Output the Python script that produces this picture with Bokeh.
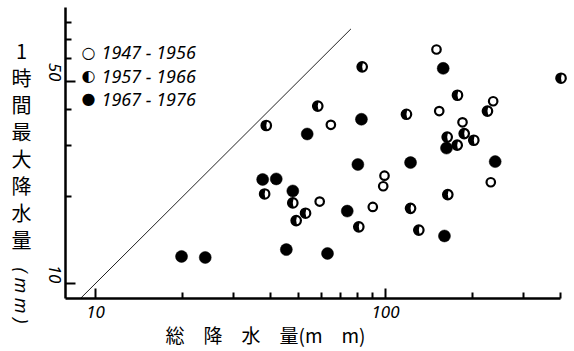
from math import pi
from bokeh.plotting import figure
from bokeh.models import FixedTicker, Label, Range1d, PrintfTickFormatter
from bokeh.embed import file_html
from bokeh.resources import INLINE

# ---- data ----
series_labels = ["1947 - 1956", "1957 - 1966", "1967 - 1976"]
series_marks = ["\u25cb", "\u25d0", "\u25cf"]

open_x = [149.9, 153.2, 235.1, 184.3, 64.8, 59.3, 99.2, 98.2, 90.4, 230.7]
open_y = [64.5, 39.5, 42.7, 36.1, 35.4, 19.2, 23.6, 21.7, 18.4, 22.4]

half_x = [83.1, 403.0, 177.1, 224.7, 58.4, 118.1, 186.8, 163.2, 201.6, 176.7,
          38.8, 38.3, 47.9, 53.0, 49.2, 80.9, 122.0, 130.3, 164.0]
half_y = [56.2, 51.3, 44.8, 39.5, 41.1, 38.5, 33.0, 32.1, 31.3, 30.1,
          35.2, 20.4, 19.0, 17.5, 16.5, 15.7, 18.2, 15.3, 20.3]

fill_x = [158.1, 82.6, 53.7, 162.3, 238.9, 80.3, 122.0, 37.7, 42.0, 47.9,
          19.8, 23.9, 45.5, 63.1, 73.8, 159.7]
fill_y = [55.5, 37.0, 32.9, 29.4, 26.4, 25.8, 26.2, 22.9, 23.0, 20.9,
          12.4, 12.3, 13.1, 12.7, 17.8, 14.6]

one_to_one = [8.9, 76.0]   # y = x reference line

x_major = [10, 100]
x_minor = [20, 30, 40, 50, 60, 70, 80, 90, 200, 300, 400]
y_major = [10, 50]
y_minor = [20, 30, 40, 60, 70, 80]

x_title = "総　降　水　量(m　m)"
y_title = "1\n時\n間\n最\n大\n降\n水\n量"
y_unit = "( m m )"

# axis extents (data units)
x_lo, x_hi = 7.88, 400
y_lo, y_hi = 8.89, 90

# ---- figure: frame spans the whole canvas, axes are pinned inside ----
W, H = 572, 349
p = figure(width=W, height=H, x_axis_type="log", y_axis_type="log",
           x_range=Range1d(4.703, 441.4), y_range=Range1d(5.909, 95.3),
           output_backend="svg", toolbar_location=None,
           min_border_left=0, min_border_right=0, min_border_top=0, min_border_bottom=0)
p.outline_line_color = None
p.xgrid.visible = False
p.ygrid.visible = False
p.background_fill_color = "white"

for ax in (p.xaxis, p.yaxis):
    ax.axis_line_width = 2.5
    ax.major_tick_line_width = 2
    ax.minor_tick_line_width = 2
    ax.major_tick_in = 10
    ax.major_tick_out = 0
    ax.minor_tick_in = 6
    ax.minor_tick_out = 0
    ax.formatter = PrintfTickFormatter(format="%d")
    ax.major_label_text_font = "Noto Sans"
    ax.major_label_text_font_style = "italic"
    ax.major_label_text_font_size = "17px"
    ax.major_label_text_color = "black"
    ax.axis_line_color = "black"
    ax.major_tick_line_color = "black"
    ax.minor_tick_line_color = "black"

p.xaxis.ticker = FixedTicker(ticks=x_major, minor_ticks=x_minor)
p.yaxis.ticker = FixedTicker(ticks=y_major, minor_ticks=y_minor)
p.xaxis.fixed_location = y_lo
p.yaxis.fixed_location = x_lo
p.xaxis.bounds = (x_lo, x_hi)
p.yaxis.bounds = (y_lo, y_hi)
p.xaxis.major_label_standoff = 8
p.yaxis.major_label_orientation = -pi / 2
p.yaxis.major_label_standoff = 11

# reference line
p.line(one_to_one, one_to_one, line_color="#222222", line_width=1)

# markers
p.scatter(open_x, open_y, marker="circle", size=8.5, fill_color="white",
          line_color="black", line_width=2.2)
p.scatter(half_x, half_y, marker="circle", size=9.5, fill_color="white",
          line_color="black", line_width=2.2)
p.wedge(x=half_x, y=half_y, radius=4.8, radius_units="screen",
        start_angle=80 * pi / 180, end_angle=280 * pi / 180,
        fill_color="black", line_color=None)
p.scatter(fill_x, fill_y, marker="circle", size=12, fill_color="black",
          line_color="black", line_width=0.5)

def lab(x, y, text, **kw):
    p.add_layout(Label(x=x, y=H - y, x_units="screen", y_units="screen",
                       text=text, text_color="black", **kw))

# legend (manual)
for i, (mk, txt) in enumerate(zip(series_marks, series_labels)):
    yy = 51.7 + i * 23.3
    lab(88, yy, mk, text_align="center", text_baseline="middle",
        text_font="DejaVu Sans", text_font_size="16px")
    lab(101, yy, txt, text_align="left", text_baseline="middle",
        text_font="Noto Sans", text_font_style="italic", text_font_size="18px")

# axis titles
lab(165, 334, x_title, text_align="left", text_baseline="middle",
    text_font="Noto Sans CJK JP", text_font_size="19px")
lab(21, 35.5, y_title, text_align="center", text_baseline="top",
    text_line_height=0.93, text_font="Noto Sans CJK JP", text_font_size="20px")
lab(21, 295, y_unit, angle=-pi / 2, text_align="center", text_baseline="middle",
    text_font="Noto Sans", text_font_style="italic", text_font_size="18px")

open("out.html", "w").write(file_html(p, INLINE))
